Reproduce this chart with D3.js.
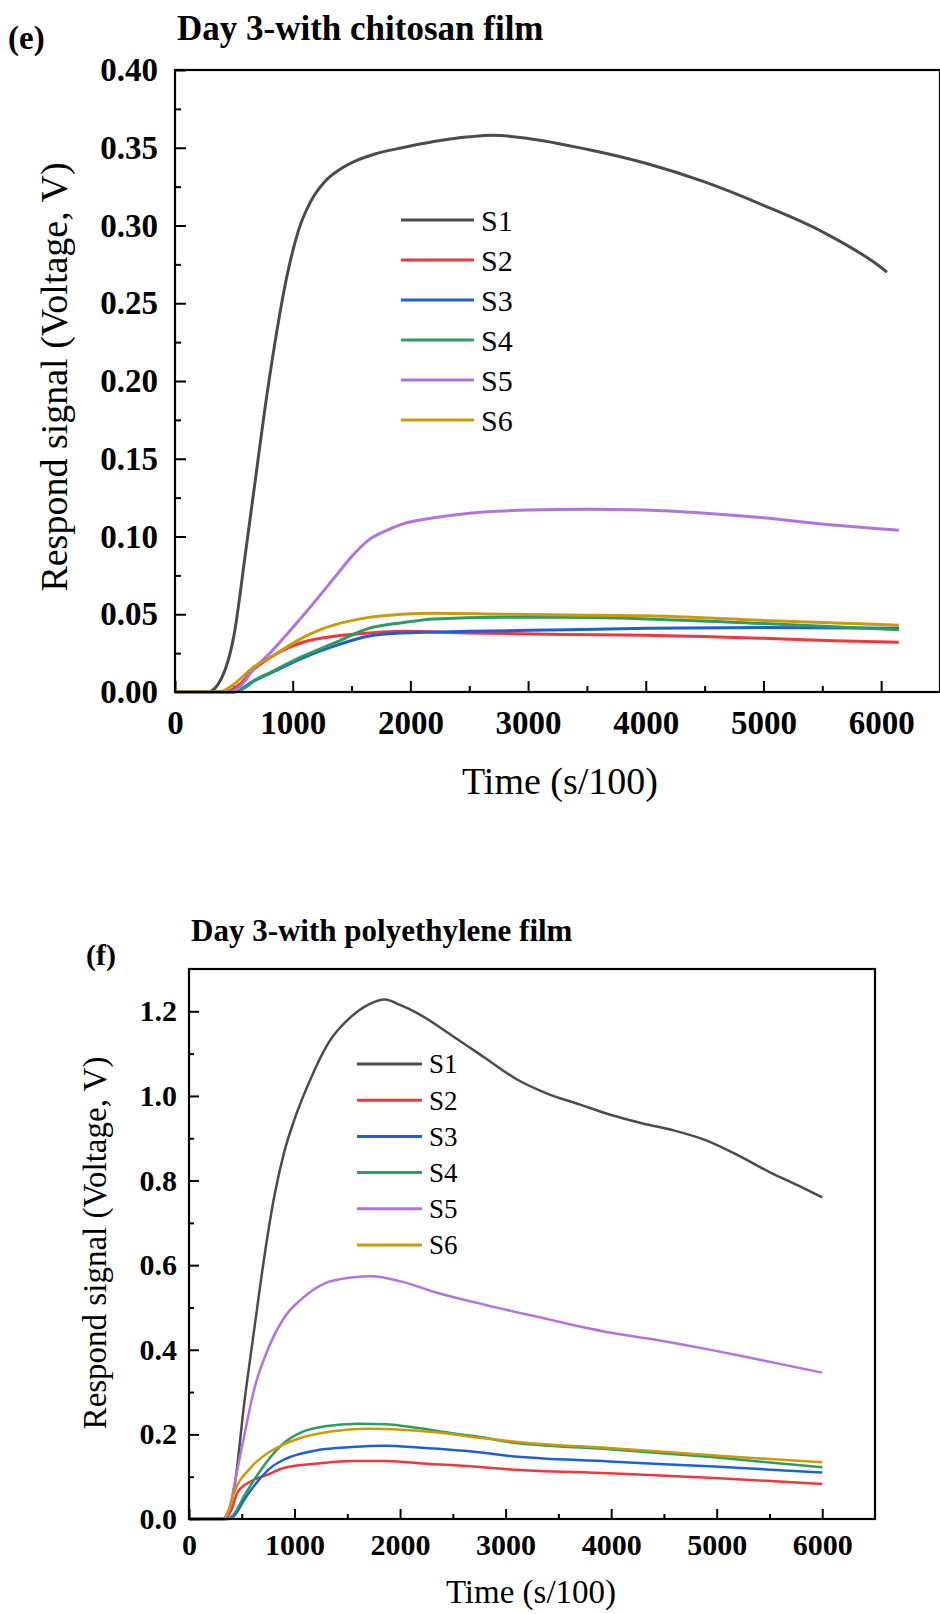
<!DOCTYPE html>
<meta charset="utf-8">
<style>
body { margin: 0; background: #fff; }
text { font-family: "Liberation Serif", "Times New Roman", serif; fill: #000; }
.axis path { display: none; }
.axis line { stroke: #000; stroke-width: 2px; }
.bold text, text.bold { font-weight: bold; }
</style>
<body>
<script src="https://d3js.org/d3.v7.min.js"></script>
<script>

// series names and colours (shared by both panels)
var names = ["S1", "S2", "S3", "S4", "S5", "S6"];
var colors = ["#4b4b4b", "#f0373c", "#1c60d6", "#2a9d64", "#b073e0", "#cc9a08"];

// panel (e): day 3, chitosan film -- [time (s/100), voltage]
var chitS1 = [[0,0],[280,0],[390,0.008],[500,0.036],[600,0.09],[680,0.135],[760,0.18],[850,0.225],[950,0.267],[1050,0.297],[1150,0.315],[1270,0.328],[1400,0.336],[1550,0.342],[1700,0.346],[1930,0.350],[2200,0.354],[2500,0.357],[2700,0.358],[3000,0.356],[3500,0.349],[4000,0.340],[4500,0.328],[5000,0.313],[5500,0.296],[6000,0.273],[6050,0.270]];
var chitS2 = [[0,0],[430,0],[550,0.005],[667,0.0145],[807,0.022],[950,0.028],[1087,0.032],[1370,0.036],[1650,0.038],[1930,0.039],[2500,0.038],[3300,0.037],[4000,0.0365],[5000,0.0345],[5600,0.033],[6150,0.032]];
var chitS3 = [[0,0],[500,0],[667,0.007],[807,0.012],[1087,0.022],[1370,0.030],[1650,0.036],[1930,0.038],[2490,0.039],[3330,0.040],[4000,0.041],[5000,0.0415],[6150,0.041]];
var chitS4 = [[0,0],[500,0],[600,0.003],[667,0.007],[807,0.0124],[1087,0.023],[1370,0.032],[1650,0.041],[1930,0.0446],[2200,0.047],[2770,0.048],[3300,0.048],[4000,0.047],[5000,0.044],[6150,0.040]];
var chitS5 = [[0,0],[470,0],[560,0.004],[667,0.0146],[807,0.025],[950,0.037],[1087,0.049],[1230,0.062],[1370,0.075],[1500,0.087],[1650,0.098],[1800,0.104],[1930,0.108],[2200,0.112],[2500,0.115],[3000,0.117],[3500,0.1175],[4000,0.117],[4500,0.115],[5000,0.112],[5500,0.108],[6150,0.104]];
var chitS6 = [[0,0],[380,0],[500,0.005],[667,0.016],[807,0.022],[950,0.029],[1087,0.035],[1230,0.040],[1370,0.0435],[1650,0.048],[1930,0.050],[2200,0.0506],[2770,0.050],[3330,0.0495],[4000,0.049],[5000,0.046],[6150,0.043]];

// panel (f): day 3, polyethylene film
var polyS1 = [[0,0],[320,0],[380,0.02],[430,0.075],[524,0.275],[619,0.45],[714,0.62],[810,0.765],[905,0.87],[1000,0.945],[1160,1.045],[1320,1.125],[1540,1.188],[1700,1.216],[1857,1.228],[2000,1.215],[2175,1.194],[2490,1.143],[2810,1.089],[3100,1.04],[3400,1.005],[3700,0.98],[4000,0.955],[4300,0.935],[4600,0.918],[4900,0.895],[5200,0.86],[5500,0.82],[5800,0.785],[6000,0.76]];
var polyS2 = [[0,0],[340,0],[400,0.02],[460,0.063],[587,0.089],[746,0.105],[905,0.121],[1222,0.131],[1540,0.137],[1857,0.137],[2175,0.132],[2810,0.122],[3000,0.118],[3980,0.108],[4980,0.097],[6000,0.083]];
var polyS3 = [[0,0],[370,0],[430,0.008],[524,0.046],[651,0.089],[778,0.122],[905,0.141],[1222,0.163],[1540,0.170],[1857,0.173],[2175,0.169],[2810,0.156],[3000,0.150],[3980,0.136],[4980,0.124],[6000,0.110]];
var polyS4 = [[0,0],[350,0],[420,0.01],[524,0.055],[651,0.105],[778,0.148],[905,0.181],[1063,0.205],[1286,0.219],[1603,0.225],[1857,0.224],[2175,0.215],[2490,0.203],[2810,0.192],[3000,0.183],[3980,0.165],[4980,0.146],[6000,0.122]];
var polyS5 = [[0,0],[330,0],[380,0.02],[429,0.080],[524,0.198],[619,0.308],[746,0.40],[905,0.477],[1063,0.519],[1286,0.557],[1540,0.571],[1730,0.574],[2016,0.561],[2333,0.536],[2810,0.506],[3300,0.478],[4000,0.44],[4500,0.42],[4980,0.398],[5375,0.378],[6000,0.346]];
var polyS6 = [[0,0],[320,0],[380,0.025],[429,0.063],[587,0.122],[746,0.156],[905,0.177],[1063,0.192],[1381,0.208],[1698,0.2135],[2016,0.211],[2333,0.205],[2810,0.190],[3300,0.178],[3980,0.168],[4980,0.150],[6000,0.134]];

// tick values
var xMajor = [0, 1000, 2000, 3000, 4000, 5000, 6000];
var xMinor = [500, 1500, 2500, 3500, 4500, 5500];
var chitYMajor = [0, 0.05, 0.10, 0.15, 0.20, 0.25, 0.30, 0.35, 0.40];
var chitYMinor = [0.025, 0.075, 0.125, 0.175, 0.225, 0.275, 0.325, 0.375];
var polyYMajor = [0, 0.2, 0.4, 0.6, 0.8, 1.0, 1.2];
var polyYMinor = [0.1, 0.3, 0.5, 0.7, 0.9, 1.1];

var svg = d3.select("body").append("svg")
    .attr("width", 940)
    .attr("height", 1614);

function panel(p) {
  var x = d3.scaleLinear().domain([0, 6500]).range([p.left, p.right]);
  var y = d3.scaleLinear().domain([0, p.yMax]).range([p.bottom, p.top]);
  var g = svg.append("g");

  // minor ticks first, then major ticks with labels (ticks point inward)
  g.append("g").attr("class", "axis")
      .attr("transform", "translate(0," + p.bottom + ")")
      .call(d3.axisBottom(x).tickValues(xMinor).tickSizeInner(-p.minor).tickSizeOuter(0).tickFormat(""));
  g.append("g").attr("class", "axis bold")
      .attr("transform", "translate(0," + p.bottom + ")")
      .call(d3.axisBottom(x).tickValues(xMajor).tickSizeInner(-p.major).tickSizeOuter(0)
        .tickPadding(p.xPad).tickFormat(d3.format("d")))
      .selectAll("text").style("font-size", p.tickFont + "px");

  g.append("g").attr("class", "axis")
      .attr("transform", "translate(" + p.left + ",0)")
      .call(d3.axisLeft(y).tickValues(p.yMinor).tickSizeInner(-p.minor).tickSizeOuter(0).tickFormat(""));
  g.append("g").attr("class", "axis bold")
      .attr("transform", "translate(" + p.left + ",0)")
      .call(d3.axisLeft(y).tickValues(p.yMajor).tickSizeInner(-p.major).tickSizeOuter(0)
        .tickPadding(p.yPad).tickFormat(d3.format(p.yFmt)))
      .selectAll("text").style("font-size", p.tickFont + "px");

  // the data
  var line = d3.line()
      .x(function(d) { return x(d[0]); })
      .y(function(d) { return y(d[1]); })
      .curve(d3.curveMonotoneX);
  p.series.forEach(function(s, i) {
    g.append("path")
        .datum(s)
        .attr("fill", "none")
        .attr("stroke", colors[i])
        .attr("stroke-width", p.lineW)
        .attr("stroke-linejoin", "round")
        .attr("d", line);
  });

  // frame
  g.append("rect")
      .attr("x", p.left).attr("y", p.top)
      .attr("width", p.right - p.left).attr("height", p.bottom - p.top)
      .attr("fill", "none").attr("stroke", "#000").attr("stroke-width", 2.2);

  // legend
  names.forEach(function(n, i) {
    var ly = p.legY + i * p.legGap;
    g.append("line")
        .attr("x1", p.legX).attr("x2", p.legX + p.legLen)
        .attr("y1", ly).attr("y2", ly)
        .attr("stroke", colors[i]).attr("stroke-width", 3);
    g.append("text")
        .attr("x", p.legX + p.legLen + 7)
        .attr("y", ly)
        .attr("dy", "0.35em")
        .style("font-size", p.legFont + "px")
        .text(n);
  });

  // titles and labels
  g.append("text").attr("class", "bold")
      .attr("x", p.titleX).attr("y", p.titleY)
      .style("font-size", p.titleFont + "px")
      .text(p.title);
  g.append("text").attr("class", "bold")
      .attr("x", p.tagX).attr("y", p.tagY)
      .style("font-size", p.tagFont + "px")
      .text(p.tag);
  g.append("text")
      .attr("x", p.xLabX).attr("y", p.xLabY)
      .attr("text-anchor", "middle")
      .style("font-size", p.labFont + "px")
      .text("Time (s/100)");
  g.append("text")
      .attr("transform", "translate(" + p.yLabX + "," + p.yLabY + ") rotate(-90)")
      .attr("text-anchor", "middle")
      .style("font-size", p.labFont + "px")
      .text("Respond signal (Voltage, V)");
}

panel({
  left: 175, right: 940, top: 70, bottom: 692, yMax: 0.4,
  yMajor: chitYMajor, yMinor: chitYMinor, yFmt: ".2f",
  major: 11, minor: 6, xPad: 19, yPad: 17, tickFont: 33,
  series: [chitS1, chitS2, chitS3, chitS4, chitS5, chitS6], lineW: 3,
  legX: 401, legLen: 73, legY: 220, legGap: 40, legFont: 30,
  title: "Day 3-with chitosan film", titleX: 177, titleY: 40, titleFont: 35,
  tag: "(e)", tagX: 8, tagY: 49, tagFont: 33,
  xLabX: 560, xLabY: 794, yLabX: 67, yLabY: 377, labFont: 38
});

panel({
  left: 189, right: 875, top: 969, bottom: 1519, yMax: 1.3,
  yMajor: polyYMajor, yMinor: polyYMinor, yFmt: ".1f",
  major: 10, minor: 5, xPad: 15, yPad: 12, tickFont: 30,
  series: [polyS1, polyS2, polyS3, polyS4, polyS5, polyS6], lineW: 2.5,
  legX: 357, legLen: 65, legY: 1064, legGap: 36.2, legFont: 27,
  title: "Day 3-with polyethylene film", titleX: 191, titleY: 941, titleFont: 31,
  tag: "(f)", tagX: 86, tagY: 965, tagFont: 30,
  xLabX: 531, xLabY: 1603, yLabX: 106, yLabY: 1243, labFont: 33
});

</script>
</body>
